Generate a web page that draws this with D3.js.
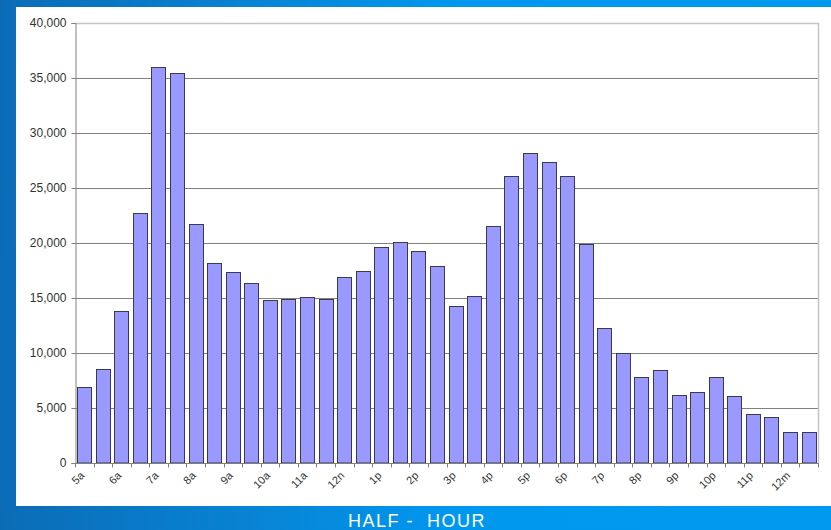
<!DOCTYPE html>
<html lang="en">
<head>
  <meta charset="UTF-8">
  <title>Half-hour counts</title>
  <script src="https://d3js.org/d3.v7.min.js"></script>
  <style>
    body { margin: 0; overflow: hidden; }
    svg { display: block; font-family: "Liberation Sans", Arial, sans-serif; }
    .axis text { fill: #333; }
  </style>
</head>
<body>
  <div id="chart"></div>
  <script>
    // one value per half hour, starting at 5:00 am
    const slots = d3.range(40).map(i => "s" + i);
    const counts = [
      6950, 8550, 13800, 22700, 36000, 35500, 21700, 18150, 17400, 16400,
      14850, 14950, 15050, 14950, 16900, 17500, 19600, 20100, 19250, 17950,
      14300, 15200, 21550, 26050, 28200, 27400, 26100, 19950, 12300, 10000,
      7850, 8500, 6150, 6450, 7850, 6050, 4450, 4180, 2850, 2850
    ];
    const hourLabels = ["5a", "6a", "7a", "8a", "9a", "10a", "11a", "12n", "1p", "2p",
      "3p", "4p", "5p", "6p", "7p", "8p", "9p", "10p", "11p", "12m"];
    const yTicks = [0, 5000, 10000, 15000, 20000, 25000, 30000, 35000, 40000];

    const W = 831, H = 530;
    const plot = {left: 75, right: 818, top: 23, bottom: 463};

    const svg = d3.select("#chart").append("svg")
      .attr("width", W)
      .attr("height", H);

    const defs = svg.append("defs");
    const grad = defs.append("linearGradient")
      .attr("id", "bg")
      .attr("x1", "0").attr("x2", "1").attr("y1", "0").attr("y2", "0");
    grad.append("stop").attr("offset", "0%").attr("stop-color", "#0b6cb6");
    grad.append("stop").attr("offset", "30%").attr("stop-color", "#0883d4");
    grad.append("stop").attr("offset", "55%").attr("stop-color", "#0098ef");
    grad.append("stop").attr("offset", "100%").attr("stop-color", "#0099f0");

    svg.append("rect")
      .attr("width", W).attr("height", H)
      .attr("fill", "url(#bg)");

    // white chart panel
    svg.append("rect")
      .attr("x", 16).attr("y", 7)
      .attr("width", W - 16).attr("height", 499)
      .attr("fill", "#fff");

    const x = d3.scaleBand()
      .domain(slots)
      .range([plot.left, plot.right])
      .paddingInner(0.23)
      .paddingOuter(0.115);

    const y = d3.scaleLinear()
      .domain([0, 40000])
      .range([plot.bottom, plot.top]);

    // gridlines
    svg.append("g")
      .selectAll("line")
      .data(yTicks.filter(d => d > 0 && d < 40000))
      .enter().append("line")
      .attr("x1", plot.left).attr("x2", plot.right)
      .attr("y1", d => y(d) + 0.5).attr("y2", d => y(d) + 0.5)
      .attr("stroke", "#808080");

    // plot border (top / right)
    svg.append("path")
      .attr("d", `M${plot.left},${plot.top + 0.5}H${plot.right + 0.5}V${plot.bottom}`)
      .attr("fill", "none")
      .attr("stroke", "#c4c4c4")
      .attr("stroke-width", 1.5);

    // bars
    svg.append("g")
      .selectAll("rect")
      .data(counts)
      .enter().append("rect")
      .attr("x", (d, i) => Math.round(x(slots[i])) + 0.5)
      .attr("y", d => Math.round(y(d)) + 0.5)
      .attr("width", Math.round(x.bandwidth()))
      .attr("height", d => y(0) - Math.round(y(d)) - 0.5)
      .attr("fill", "#9999ff")
      .attr("stroke", "#3a3a4a")
      .attr("stroke-width", 1);

    // y axis
    const yAxis = svg.append("g")
      .attr("class", "axis")
      .attr("transform", `translate(${plot.left + 0.5},0)`)
      .call(d3.axisLeft(y).tickValues(yTicks).tickSize(4).tickPadding(5)
        .tickFormat(d3.format(",")));
    yAxis.select(".domain").attr("stroke", "#808080");
    yAxis.selectAll(".tick line").attr("stroke", "#808080");
    yAxis.selectAll("text").style("font-size", "12px");

    // x axis: ticks between every bar, labels every hour
    const xAxis = svg.append("g")
      .attr("class", "axis")
      .attr("transform", `translate(0,${plot.bottom + 0.5})`);
    xAxis.append("line")
      .attr("x1", plot.left).attr("x2", plot.right + 1)
      .attr("stroke", "#808080");
    xAxis.selectAll(".xtick")
      .data(d3.range(slots.length + 1))
      .enter().append("line")
      .attr("class", "xtick")
      .attr("x1", i => Math.round(plot.left + x.step() * i) + 0.5)
      .attr("x2", i => Math.round(plot.left + x.step() * i) + 0.5)
      .attr("y1", 0).attr("y2", 4)
      .attr("stroke", "#808080");
    xAxis.selectAll(".xlabel")
      .data(hourLabels)
      .enter().append("text")
      .attr("class", "xlabel")
      .attr("text-anchor", "end")
      .attr("transform", (d, i) => `translate(${x(slots[i * 2]) + x.bandwidth() / 2 - 2},10) rotate(-45)`)
      .attr("dy", "0.35em")
      .style("font-size", "11px")
      .text(d => d);

    // title below chart
    svg.append("text")
      .attr("x", 417)
      .attr("y", 527)
      .attr("text-anchor", "middle")
      .attr("fill", "#fff")
      .style("font-family", "'Liberation Sans', Arial, sans-serif")
      .style("font-size", "18px")
      .style("letter-spacing", "1.5px")
      .style("white-space", "pre")
      .text("HALF -  HOUR");
  </script>
</body>
</html>
